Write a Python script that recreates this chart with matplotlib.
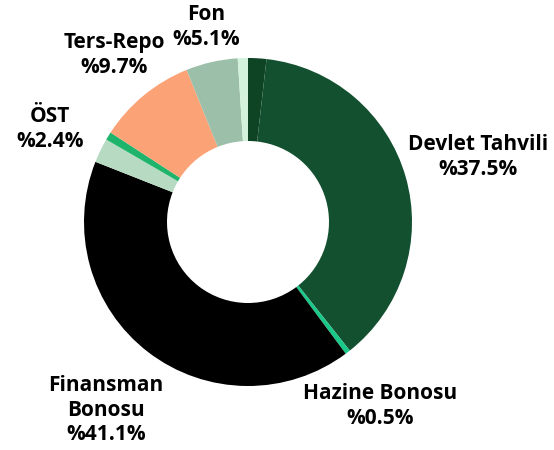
import matplotlib
matplotlib.use("Agg")
import matplotlib.pyplot as plt

# slices clockwise from 12 o'clock
labels = ["", "Devlet Tahvili", "Hazine Bonosu", "Finansman Bonosu", "ÖST",
          "", "Ters-Repo", "Fon", ""]
shares = [1.8, 37.5, 0.5, 41.1, 2.4, 0.8, 9.7, 5.1, 1.0]
colors = ["#0e4324", "#135030", "#19c98a", "#000000", "#b7dbc2",
          "#1fb46b", "#fca277", "#9cbfa9", "#d2f2dc"]

# label text blocks (position in pixels, top-left origin)
label_text = ["Devlet Tahvili\n%37.5%", "Hazine Bonosu\n%0.5%",
              "Finansman\nBonosu\n%41.1%", "ÖST\n%2.4%",
              "Ters-Repo\n%9.7%", "Fon\n%5.1%"]
label_pos = [(478, 157), (380, 406), (106, 410), (50, 129),
             (114, 55), (206, 27)]

W, H = 554, 450
fig = plt.figure(figsize=(W / 100, H / 100), dpi=100)
ax = fig.add_axes([0, 0, 1, 1])

R, r = 164, 81
ax.pie(shares, colors=colors, startangle=90, counterclock=False,
       center=(248, H - 222), radius=R, frame=True,
       wedgeprops=dict(width=R - r, linewidth=0))
ax.set_xlim(0, W)
ax.set_ylim(0, H)
ax.axis("off")

for txt, (x, y) in zip(label_text, label_pos):
    ax.text(x, H - y, txt, ha="center", va="center", fontsize=15,
            fontweight="bold", family="Open Sans", linespacing=1.2)

fig.savefig("out.png", dpi=100, facecolor="white")
